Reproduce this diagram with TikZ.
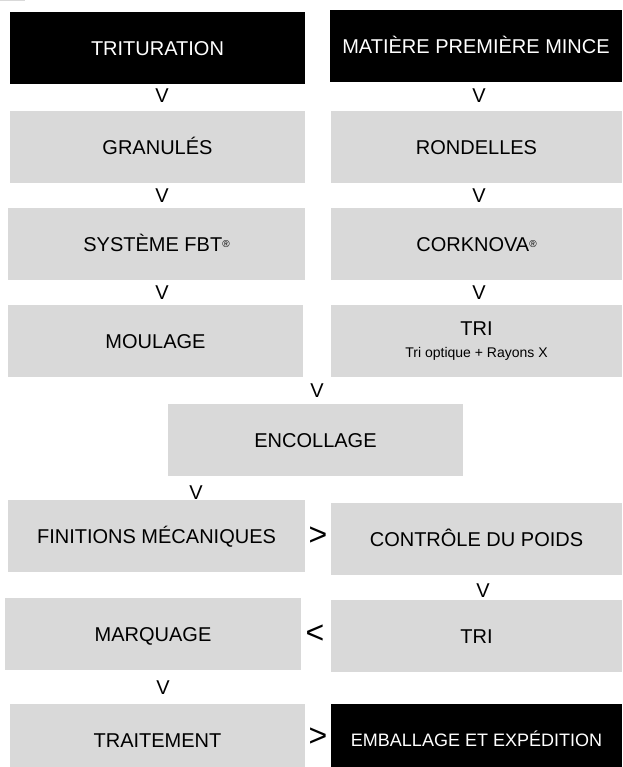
\documentclass[tikz,border=0pt]{standalone}
\usepackage{fontspec}
\setmainfont{Liberation Sans}
\definecolor{boxgray}{HTML}{D9D9D9}
\newcommand{\regmark}{\raisebox{4pt}{\fontsize{10}{10}\selectfont ®}}
\tikzset{
  stage/.style={fill=boxgray, minimum width=295pt, minimum height=72pt,
    inner sep=0pt, text height=14.3pt, text depth=0pt,
    font=\fontsize{20}{24}\selectfont},
  darkstage/.style={stage, fill=black, text=white},
  sign/.style={inner sep=0pt, text height=14.3pt, text depth=0pt,
    font=\fontsize{20}{20}\selectfont},
  bigsign/.style={inner sep=0pt, font=\fontsize{32}{32}\selectfont}
}
\begin{document}
\begin{tikzpicture}[x=1pt,y=-1pt]
\useasboundingbox (0,0) rectangle (622,767);
% small grey mark in the corner
\fill[boxgray] (0,0) rectangle (25,1.5);

% draw the two starting columns
\node[darkstage] (trituration) at (157.5,48) {TRITURATION};
\node[darkstage, minimum width=292pt] (matiere) at (476,46) {MATIÈRE PREMIÈRE MINCE};

\node[stage] (granules) at (157.5,147) {GRANULÉS};
\node[stage, minimum width=291pt] (rondelles) at (476.5,147) {RONDELLES};

\node[stage, minimum width=297pt] (systeme) at (156.5,244) {SYSTÈME FBT\regmark};
\node[stage, minimum width=291pt] (corknova) at (476.5,244) {CORKNOVA\regmark};

\node[stage] (moulage) at (155.5,341) {MOULAGE};
\node[stage, minimum width=291pt, align=center, text height=, text depth=] (tri) at (476.5,341)
  {TRI\\[-2pt]{\fontsize{14}{16}\selectfont Tri optique + Rayons X}};

% draw the common part
\node[stage] (encollage) at (315.5,440) {ENCOLLAGE};

\node[stage, minimum width=297pt] (finitions) at (156.5,536) {FINITIONS MÉCANIQUES};
\node[stage, minimum width=291pt] (controle) at (476.5,539) {CONTRÔLE DU POIDS};

\node[stage, minimum width=296pt] (marquage) at (153,634) {MARQUAGE};
\node[stage, minimum width=291pt] (tri2) at (476.5,636) {TRI};

\node[stage] (traitement) at (157.5,740) {TRAITEMENT};
\node[darkstage, minimum width=291pt, text height=12.9pt, font=\fontsize{18}{22}\selectfont] (emballage) at (476.5,740)
  {EMBALLAGE ET EXPÉDITION};

% draw the signs between the stages
\foreach \y/\n in {95/a,195/b,292/c}{
  \node[sign] (vl\n) at (162,\y) {V};
  \node[sign] (vr\n) at (479,\y) {V};
}
\node[sign] (vmid) at (317,390) {V};
\node[sign] (venc) at (196,492) {V};
\node[bigsign] (gtfin) at (318,536) {>};
\node[sign] (vctl) at (483,590) {V};
\node[bigsign] (lttri) at (315,634) {<};
\node[sign] (vmrq) at (163,687) {V};
\node[bigsign] (gttrt) at (318,737) {>};
\end{tikzpicture}
\end{document}
